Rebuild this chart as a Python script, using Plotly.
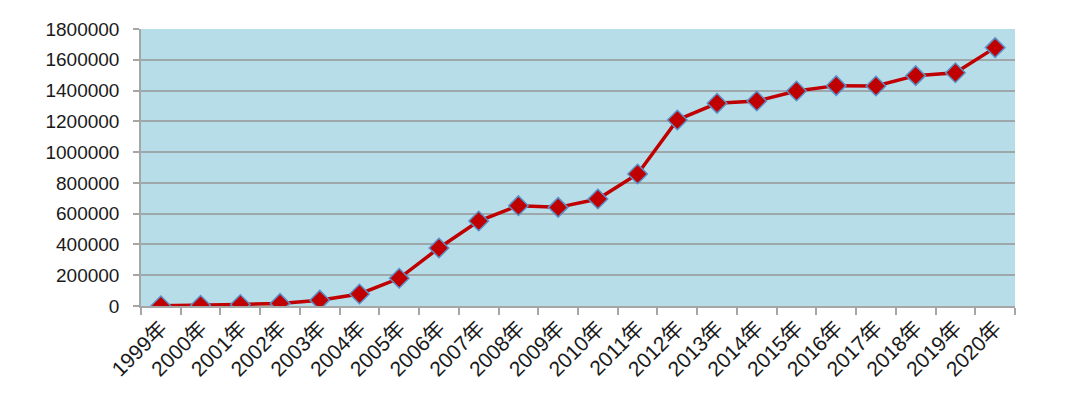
import plotly.graph_objects as go

years = ["1999年", "2000年", "2001年", "2002年", "2003年", "2004年", "2005年", "2006年",
         "2007年", "2008年", "2009年", "2010年", "2011年", "2012年", "2013年", "2014年",
         "2015年", "2016年", "2017年", "2018年", "2019年", "2020年"]
values = [2000, 5000, 10000, 17000, 38000, 78000, 180000, 377000,
          552000, 652000, 641000, 695000, 858000, 1209000, 1317000, 1332000,
          1397000, 1432000, 1430000, 1497000, 1516000, 1679000]
y_ticks = [0, 200000, 400000, 600000, 800000, 1000000, 1200000, 1400000, 1600000, 1800000]

font_family = "Liberation Sans, Noto Sans CJK SC, sans-serif"

fig = go.Figure()
fig.add_trace(go.Scatter(
    x=years, y=values, mode="lines+markers",
    line=dict(color="#C00000", width=3.5),
    marker=dict(symbol="diamond", size=15, color="#C00000",
                line=dict(color="#5B8FC7", width=1.5)),
    showlegend=False,
))

fig.update_layout(
    width=1072, height=391,
    margin=dict(l=133, r=65, t=21, b=93),
    paper_bgcolor="white",
    plot_bgcolor="#B7DDE8",
    font=dict(family=font_family, size=19, color="#1a1a1a"),
)
fig.update_xaxes(
    type="category", range=[-0.5, len(years) - 0.5], tickangle=-45, tickson="boundaries",
    ticks="outside", ticklen=7, tickcolor="#A6A6A6", tickwidth=1.5,
    showline=True, linecolor="#A6A6A6", linewidth=1.5,
    showgrid=False, mirror=False, automargin=False,
    tickfont=dict(size=21, family=font_family, color="#1a1a1a"),
)
fig.update_yaxes(
    range=[0, 1800000], tickvals=y_ticks, ticktext=[str(v) for v in y_ticks],
    ticks="outside", ticklen=6, tickcolor="#A6A6A6", tickwidth=1.5,
    showline=True, linecolor="#A6A6A6", linewidth=1.5,
    showgrid=True, gridcolor="#9EA7AA", gridwidth=1.5,
    zeroline=False, automargin=False, ticklabelstandoff=10,
    tickfont=dict(size=19, family=font_family, color="#1a1a1a"),
)

fig.write_html("out.html")
